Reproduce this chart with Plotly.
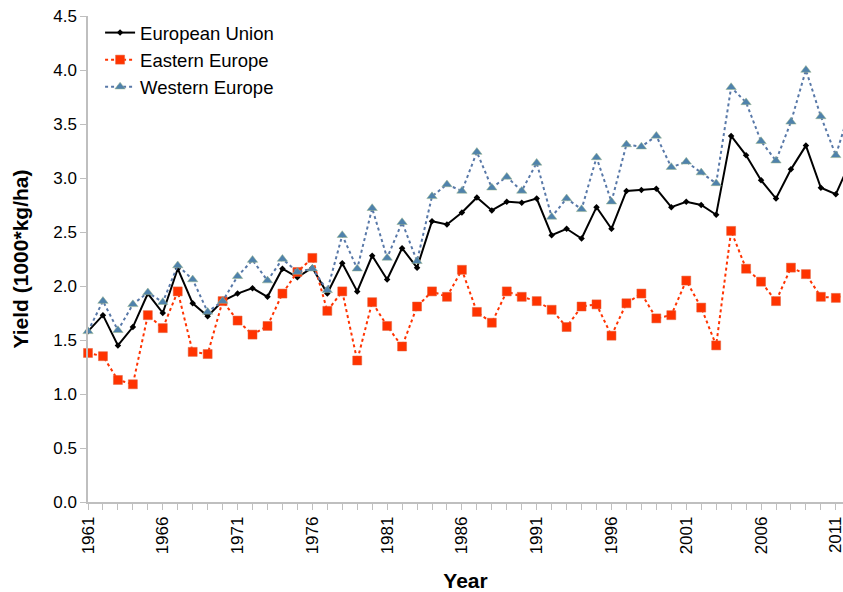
import plotly.graph_objects as go

years = list(range(1961, 2013))

eu = [1.58, 1.73, 1.45, 1.62, 1.93, 1.75, 2.16, 1.84, 1.72, 1.86,
      1.93, 1.98, 1.90, 2.16, 2.08, 2.17, 1.93, 2.21, 1.95, 2.28,
      2.06, 2.35, 2.17, 2.60, 2.57, 2.68, 2.82, 2.70, 2.78, 2.77,
      2.81, 2.47, 2.53, 2.44, 2.73, 2.53, 2.88, 2.89, 2.90, 2.73,
      2.78, 2.75, 2.66, 3.39, 3.21, 2.98, 2.81, 3.08, 3.30, 2.91,
      2.85, 3.16]

ee = [1.38, 1.35, 1.13, 1.09, 1.73, 1.61, 1.95, 1.39, 1.37, 1.86,
      1.68, 1.55, 1.63, 1.93, 2.13, 2.26, 1.77, 1.95, 1.31, 1.85,
      1.63, 1.44, 1.81, 1.95, 1.90, 2.15, 1.76, 1.66, 1.95, 1.90,
      1.86, 1.78, 1.62, 1.81, 1.83, 1.54, 1.84, 1.93, 1.70, 1.73,
      2.05, 1.80, 1.45, 2.51, 2.16, 2.04, 1.86, 2.17, 2.11, 1.90,
      1.89, 1.94]

we = [1.58, 1.86, 1.59, 1.83, 1.94, 1.85, 2.19, 2.06, 1.76, 1.86,
      2.09, 2.24, 2.05, 2.25, 2.13, 2.16, 1.96, 2.47, 2.16, 2.72,
      2.26, 2.59, 2.23, 2.83, 2.94, 2.88, 3.24, 2.91, 3.01, 2.88,
      3.14, 2.64, 2.81, 2.71, 3.19, 2.78, 3.31, 3.29, 3.39, 3.10,
      3.15, 3.05, 2.95, 3.84, 3.70, 3.34, 3.16, 3.52, 4.00, 3.57,
      3.21, 3.66]

x_tick_years = list(range(1961, 2012, 5))
y_ticks = [0.0, 0.5, 1.0, 1.5, 2.0, 2.5, 3.0, 3.5, 4.0, 4.5]

font_family = "Liberation Sans, Arial, sans-serif"

fig = go.Figure()
fig.add_trace(go.Scatter(
    x=years, y=eu, name="European Union", mode="lines+markers",
    line=dict(color="#000000", width=2),
    marker=dict(symbol="diamond", size=5, color="#000000"),
    cliponaxis=False,
))
fig.add_trace(go.Scatter(
    x=years, y=ee, name="Eastern Europe", mode="lines+markers",
    line=dict(color="#FF3300", width=2, dash="dot"),
    marker=dict(symbol="square", size=9, color="#FF3300",
                line=dict(color="#E0603A", width=0.5)),
    cliponaxis=False,
))
fig.add_trace(go.Scatter(
    x=years, y=we, name="Western Europe", mode="lines+markers",
    line=dict(color="#5878A8", width=2, dash="dot"),
    marker=dict(symbol="triangle-up", size=9, color="#4F82AC",
                line=dict(color="#9BB58A", width=0.5)),
    cliponaxis=False,
))

fig.update_layout(
    width=843, height=592,
    margin=dict(l=88, r=0, t=16, b=90),
    paper_bgcolor="white", plot_bgcolor="white",
    font=dict(family=font_family, size=17, color="#000000"),
    showlegend=True,
    legend=dict(x=0.016, y=1.004, xanchor="left", yanchor="top",
                bgcolor="rgba(0,0,0,0)", font=dict(size=18.5),
                itemwidth=30, tracegroupgap=0),
)

fig.update_xaxes(
    range=[1961, 2011.48],
    automargin=False,
    tickmode="array", tickvals=x_tick_years,
    ticktext=[str(y) for y in x_tick_years],
    ticklabeloverflow="allow",
    tickangle=-90, ticks="outside", ticklen=6, tickcolor="#BFBFBF",
    showline=True, linecolor="#BFBFBF", linewidth=1.5,
    showgrid=False, zeroline=False,
    minor=dict(dtick=1, tick0=1961, ticks="outside", ticklen=6,
               tickcolor="#BFBFBF", showgrid=False),
    tickfont=dict(size=17),
    title=dict(text="<b>Year</b>", font=dict(size=21), standoff=23),
)
fig.update_yaxes(
    range=[0, 4.5],
    automargin=False,
    tickmode="array", tickvals=y_ticks,
    ticktext=[f"{v:.1f}" for v in y_ticks],
    ticks="outside", ticklen=6, tickcolor="#BFBFBF",
    showline=True, linecolor="#BFBFBF", linewidth=1.5,
    showgrid=False, zeroline=False,
    tickfont=dict(size=17),
    title=dict(text="<b>Yield (1000*kg/ha)</b>", font=dict(size=21), standoff=19),
)

fig.write_html("out.html", config={"displayModeBar": False},
               post_script="document.body.style.margin='0';")
